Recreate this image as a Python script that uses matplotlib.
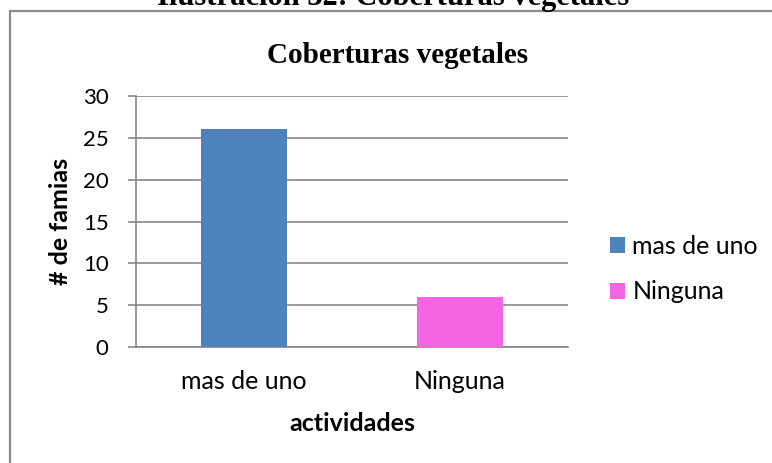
import matplotlib
matplotlib.use("Agg")
import matplotlib.pyplot as plt
from matplotlib.patches import Rectangle, Patch

categories = ["mas de uno", "Ninguna"]
families = [26, 6]
bar_colors = ["#4F81BD", "#F564E2"]
y_ticks = [0, 5, 10, 15, 20, 25, 30]

W, H = 772, 463
GRID = "#868686"
SANS = ["Lato", "DejaVu Sans"]
SERIF = ["Liberation Serif", "DejaVu Serif"]

fig = plt.figure(figsize=(W / 100, H / 100), dpi=100)
fig.patch.set_facecolor("white")

# frame around the chart area, open to the right and bottom
fig.add_artist(Rectangle((10 / W, -0.1), 1.2, 1 - 11 / H + 0.1,
                         transform=fig.transFigure, fill=False,
                         edgecolor="#8C8C8C", linewidth=1.6))

# caption above the frame, only its lower part is on the sheet
fig.text(393 / W, 1 - 5 / H, "Ilustración 32: Coberturas vegetales",
         ha="center", va="baseline", fontsize=22, fontweight="bold",
         family=SERIF, color="black")

# chart title
fig.text(398 / W, 1 - 63 / H, "Coberturas vegetales", ha="center",
         va="baseline", fontsize=21, fontweight="bold", family=SERIF)

ax = fig.add_axes([136 / W, 1 - 347 / H, (568 - 136) / W, (347 - 96) / H])
x = range(len(categories))
ax.bar(x, families, width=0.4, color=bar_colors, zorder=3)
ax.set_xlim(-0.5, 1.5)
ax.set_ylim(0, 30)
ax.set_yticks(y_ticks)
ax.set_xticks(list(x))
ax.set_xticklabels(categories)
ax.yaxis.grid(True, color=GRID, linewidth=1.2, zorder=0)

for side in ("top", "right"):
    ax.spines[side].set_visible(False)
ax.spines["left"].set_color(GRID)
ax.spines["left"].set_linewidth(1.2)
ax.spines["bottom"].set_color(GRID)
ax.spines["bottom"].set_linewidth(1.2)
ax.tick_params(axis="y", length=5.8, width=1.2, color=GRID, direction="out",
               labelsize=16, pad=14)
ax.tick_params(axis="x", length=0, labelsize=18, pad=16.5)
for lab in ax.get_xticklabels() + ax.get_yticklabels():
    lab.set_family(SANS)

ax.set_xlabel("actividades", family=SANS, fontweight="bold", fontsize=18,
              labelpad=14)
ax.set_ylabel("# de famias", family=SANS, fontweight="bold", fontsize=18,
              labelpad=8)

handles = [Patch(facecolor=c, edgecolor="none") for c in bar_colors]
ax.legend(handles, categories, loc="center left", bbox_to_anchor=(1.045, 0.31),
          frameon=False, prop={"family": SANS, "size": 18},
          handlelength=0.6, handleheight=0.6, handletextpad=0.3,
          labelspacing=0.9)

fig.savefig("out.png", dpi=100, facecolor="white")
